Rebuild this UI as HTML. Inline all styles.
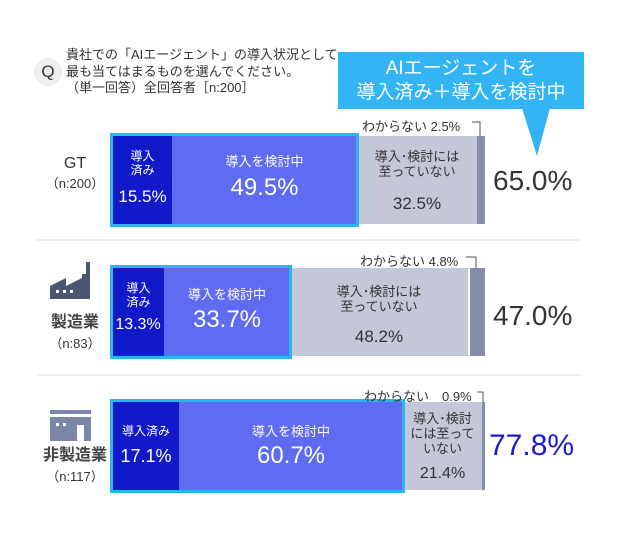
<!DOCTYPE html><html><head><meta charset="utf-8"><style>
body{margin:0;width:628px;height:555px;background:#fff;position:relative;overflow:hidden;font-family:"Liberation Sans","Noto Sans CJK JP",sans-serif;color:#333}
div{position:absolute;box-sizing:border-box}
.c{text-align:center;line-height:1.15}
.w{color:#fff}
.dk{background:#1119c9}.md{background:#5f6bf0}.gr{background:#c3c7d6}.dg{background:#858da8}
.cy{border:3px solid #2bb4f2}
</style></head><body>
<div style="left:34px;top:58px;width:28px;height:28px;border-radius:50%;background:#eee;text-align:center;line-height:28px;font-size:17px">Q</div>
<div style="left:66px;top:47px;font-size:13px;line-height:16.5px">貴社での「AIエージェント」の導入状況として<br>最も当てはまるものを選んでください。<br>（単一回答）全回答者［n:200］</div>
<div style="left:338px;top:52px;width:246px;height:57px;background:#33b5f5;color:#fff;font-size:19px;line-height:24px;text-align:center;padding-top:5px">AIエージェントを<br>導入済み＋導入を検討中</div>
<svg style="position:absolute;left:0;top:0" width="628" height="555"><polygon points="522,108 550,108 537,156" fill="#33b5f5"/>
<line x1="37" y1="240" x2="580" y2="240" stroke="#ddd"/><line x1="37" y1="375" x2="580" y2="375" stroke="#ddd"/>
<polyline points="472,122 480,122 480,137" fill="none" stroke="#555"/>
<polyline points="466,257 476,257 476,269" fill="none" stroke="#555"/>
<polyline points="477,392 483,392 483,402" fill="none" stroke="#555"/>
<g fill="#4d5670"><polygon points="50,299 50,286 66,278 66,286 82,278 82,274 86,274 86,262 90,262 90,299"/></g>
<g fill="#fff"><rect x="56" y="290" width="3" height="3"/><rect x="63" y="290" width="3" height="3"/><rect x="70" y="290" width="3" height="3"/></g>
<g fill="#7b86a8"><rect x="50" y="410" width="41" height="4"/><rect x="50" y="417" width="41" height="24"/></g>
<g fill="#fff"><rect x="56" y="423" width="3" height="3"/><rect x="63" y="423" width="3" height="3"/><rect x="77" y="425" width="7" height="16"/></g>
</svg>
<div class="c" style="left:40px;top:155px;width:70px;font-size:16px">GT</div>
<div class="c" style="left:40px;top:177px;width:70px;font-size:13px">（n:200）</div>
<div style="left:113px;top:136px;width:59px;height:88px" class="dk"></div>
<div style="left:172px;top:136px;width:185px;height:88px" class="md"></div>
<div style="left:357px;top:136px;width:120px;height:88px" class="gr"></div>
<div style="left:477px;top:136px;width:8px;height:88px" class="dg"></div>
<div style="left:110px;top:133px;width:249px;height:94px" class="cy"></div>
<div class="c w" style="left:113px;top:150px;width:59px;font-size:12px">導入<br>済み</div>
<div class="c w" style="left:110px;top:187px;width:65px;font-size:17px">15.5%</div>
<div class="c w" style="left:172px;top:155px;width:185px;font-size:13px">導入を検討中</div>
<div class="c w" style="left:172px;top:174px;width:185px;font-size:24px">49.5%</div>
<div class="c" style="left:357px;top:150px;width:120px;font-size:13px">導入･検討には<br>至っていない</div>
<div class="c" style="left:357px;top:194px;width:120px;font-size:17px">32.5%</div>
<div style="left:362px;top:116px;font-size:13px">わからない 2.5%</div>
<div style="left:493px;top:165px;font-size:28px">65.0%</div>

<div class="c" style="left:40px;top:314px;width:70px;font-size:16px;font-weight:bold;color:#444">製造業</div>
<div class="c" style="left:40px;top:337px;width:70px;font-size:13px">（n:83）</div>
<div style="left:113px;top:268px;width:51px;height:88px" class="dk"></div>
<div style="left:164px;top:268px;width:126px;height:88px" class="md"></div>
<div style="left:290px;top:268px;width:178px;height:88px" class="gr"></div>
<div style="left:470px;top:268px;width:15px;height:88px" class="dg"></div>
<div style="left:110px;top:265px;width:182px;height:94px" class="cy"></div>
<div class="c w" style="left:113px;top:282px;width:51px;font-size:12px">導入<br>済み</div>
<div class="c w" style="left:108px;top:316px;width:60px;font-size:16px">13.3%</div>
<div class="c w" style="left:164px;top:288px;width:126px;font-size:13px">導入を検討中</div>
<div class="c w" style="left:164px;top:306px;width:126px;font-size:24px">33.7%</div>
<div class="c" style="left:290px;top:285px;width:178px;font-size:13px">導入･検討には<br>至っていない</div>
<div class="c" style="left:290px;top:327px;width:178px;font-size:17px">48.2%</div>
<div style="left:360px;top:251px;font-size:13px">わからない 4.8%</div>
<div style="left:493px;top:300px;font-size:28px">47.0%</div>

<div class="c" style="left:30px;top:447px;width:90px;font-size:16px;font-weight:bold;color:#444">非製造業</div>
<div class="c" style="left:40px;top:470px;width:70px;font-size:13px">（n:117）</div>
<div style="left:113px;top:402px;width:66px;height:88px" class="dk"></div>
<div style="left:179px;top:402px;width:224px;height:88px" class="md"></div>
<div style="left:403px;top:402px;width:79px;height:88px" class="gr"></div>
<div style="left:482px;top:402px;width:3px;height:88px" class="dg"></div>
<div style="left:110px;top:399px;width:295px;height:94px" class="cy"></div>
<div class="c w" style="left:113px;top:425px;width:66px;font-size:12px">導入済み</div>
<div class="c w" style="left:113px;top:446px;width:66px;font-size:18px">17.1%</div>
<div class="c w" style="left:179px;top:425px;width:224px;font-size:13px">導入を検討中</div>
<div class="c w" style="left:179px;top:442px;width:224px;font-size:24px">60.7%</div>
<div class="c" style="left:403px;top:412px;width:79px;font-size:13px">導入･検討<br>には至って<br>いない</div>
<div class="c" style="left:403px;top:465px;width:79px;font-size:16px">21.4%</div>
<div style="left:364px;top:386px;font-size:13px">わからない　0.9%</div>
<div style="left:489px;top:429px;font-size:30px;color:#1a1ad0">77.8%</div>
</body></html>
